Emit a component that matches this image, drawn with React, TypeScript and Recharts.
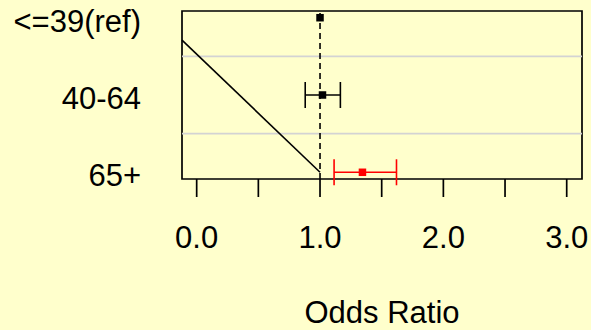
import {
  ComposedChart,
  Scatter,
  ErrorBar,
  XAxis,
  YAxis,
  ReferenceLine,
  ReferenceArea,
  Label,
} from "recharts";

// age groups, top to bottom; y position is the row value
const grupos = ["<=39(ref)", "40-64", "65+"];
const linhas = [3, 2, 1];
const odds = [1.0, 1.02, 1.344];
const icInf = [1.0, 0.88, 1.114];
const icSup = [1.0, 1.165, 1.62];

const xTicks = [0, 0.5, 1, 1.5, 2, 2.5, 3];
const xMin = -0.119;
const xMax = 3.124;
const yMin = 0.913;
const yMax = 3.087;

// diagonal guide line (left end clipped at the box)
const diagX = [xMin, 1];
const diagY = [2.71, 1];

const ponto = (i: number) => ({
  x: odds[i],
  y: linhas[i],
  erro: [odds[i] - icInf[i], icSup[i] - odds[i]],
});

const dadosRef = [ponto(0)];
const dadosPretos = [ponto(1)];
const dadosVermelhos = [ponto(2)];

const fonte = "'Liberation Sans', Arial, sans-serif";

function Quadrado(cor: string) {
  return (props: any) => (
    <rect x={props.cx - 3.75} y={props.cy - 3.75} width={7.5} height={7.5} fill={cor} />
  );
}

function TickX(props: any) {
  const v = props.payload.value;
  if (v % 1 !== 0) return null;
  return (
    <text x={props.x} y={props.y + 49} textAnchor="middle" fontSize={31} fontFamily={fonte} fill="#000">
      {v.toFixed(1)}
    </text>
  );
}

function TickY(props: any) {
  const idx = linhas.indexOf(props.payload.value);
  if (idx < 0) return null;
  return (
    <text x={141} y={props.y + 14} textAnchor="end" fontSize={31} fontFamily={fonte} fill="#000">
      {grupos[idx]}
    </text>
  );
}

export default function App() {
  return (
    <div style={{ position: "fixed", left: 0, top: 0, width: 591, height: 330, background: "#FFFFCC" }}>
      <ComposedChart width={591} height={330} margin={{ top: 11, right: 9, left: 0, bottom: 0 }}>
        <XAxis
          type="number"
          dataKey="x"
          domain={[xMin, xMax]}
          ticks={xTicks}
          allowDataOverflow
          axisLine={false}
          tickLine={{ stroke: "#000", strokeWidth: 1.7 }}
          tickSize={18}
          tick={<TickX />}
          height={151}
        >
          <Label value="Odds Ratio" position="insideBottom" offset={7} fontSize={31} fontFamily={fonte} fill="#000" />
        </XAxis>
        <YAxis
          type="number"
          dataKey="y"
          domain={[yMin, yMax]}
          ticks={linhas}
          allowDataOverflow
          axisLine={false}
          tickLine={false}
          tick={<TickY />}
          width={182}
        />
        <ReferenceLine y={1.5} stroke="#D3D3D3" strokeWidth={1.7} />
        <ReferenceLine y={2.5} stroke="#D3D3D3" strokeWidth={1.7} />
        <ReferenceLine x={1} stroke="#000" strokeWidth={1.6} strokeDasharray="6 4" />
        <ReferenceLine
          segment={[
            { x: diagX[0], y: diagY[0] },
            { x: diagX[1], y: diagY[1] },
          ]}
          stroke="#000"
          strokeWidth={1.6}
        />
        <ReferenceArea x1={xMin} x2={xMax} y1={yMin} y2={yMax} fill="none" stroke="#000" strokeWidth={1.7} fillOpacity={0} />
        <Scatter data={dadosRef} shape={Quadrado("#000")} isAnimationActive={false} />
        <Scatter data={dadosPretos} shape={Quadrado("#000")} isAnimationActive={false}>
          <ErrorBar dataKey="erro" direction="x" width={13} stroke="#000" strokeWidth={1.6} />
        </Scatter>
        <Scatter data={dadosVermelhos} shape={Quadrado("#FF0000")} isAnimationActive={false}>
          <ErrorBar dataKey="erro" direction="x" width={13} stroke="#FF0000" strokeWidth={1.6} />
        </Scatter>
      </ComposedChart>
    </div>
  );
}
